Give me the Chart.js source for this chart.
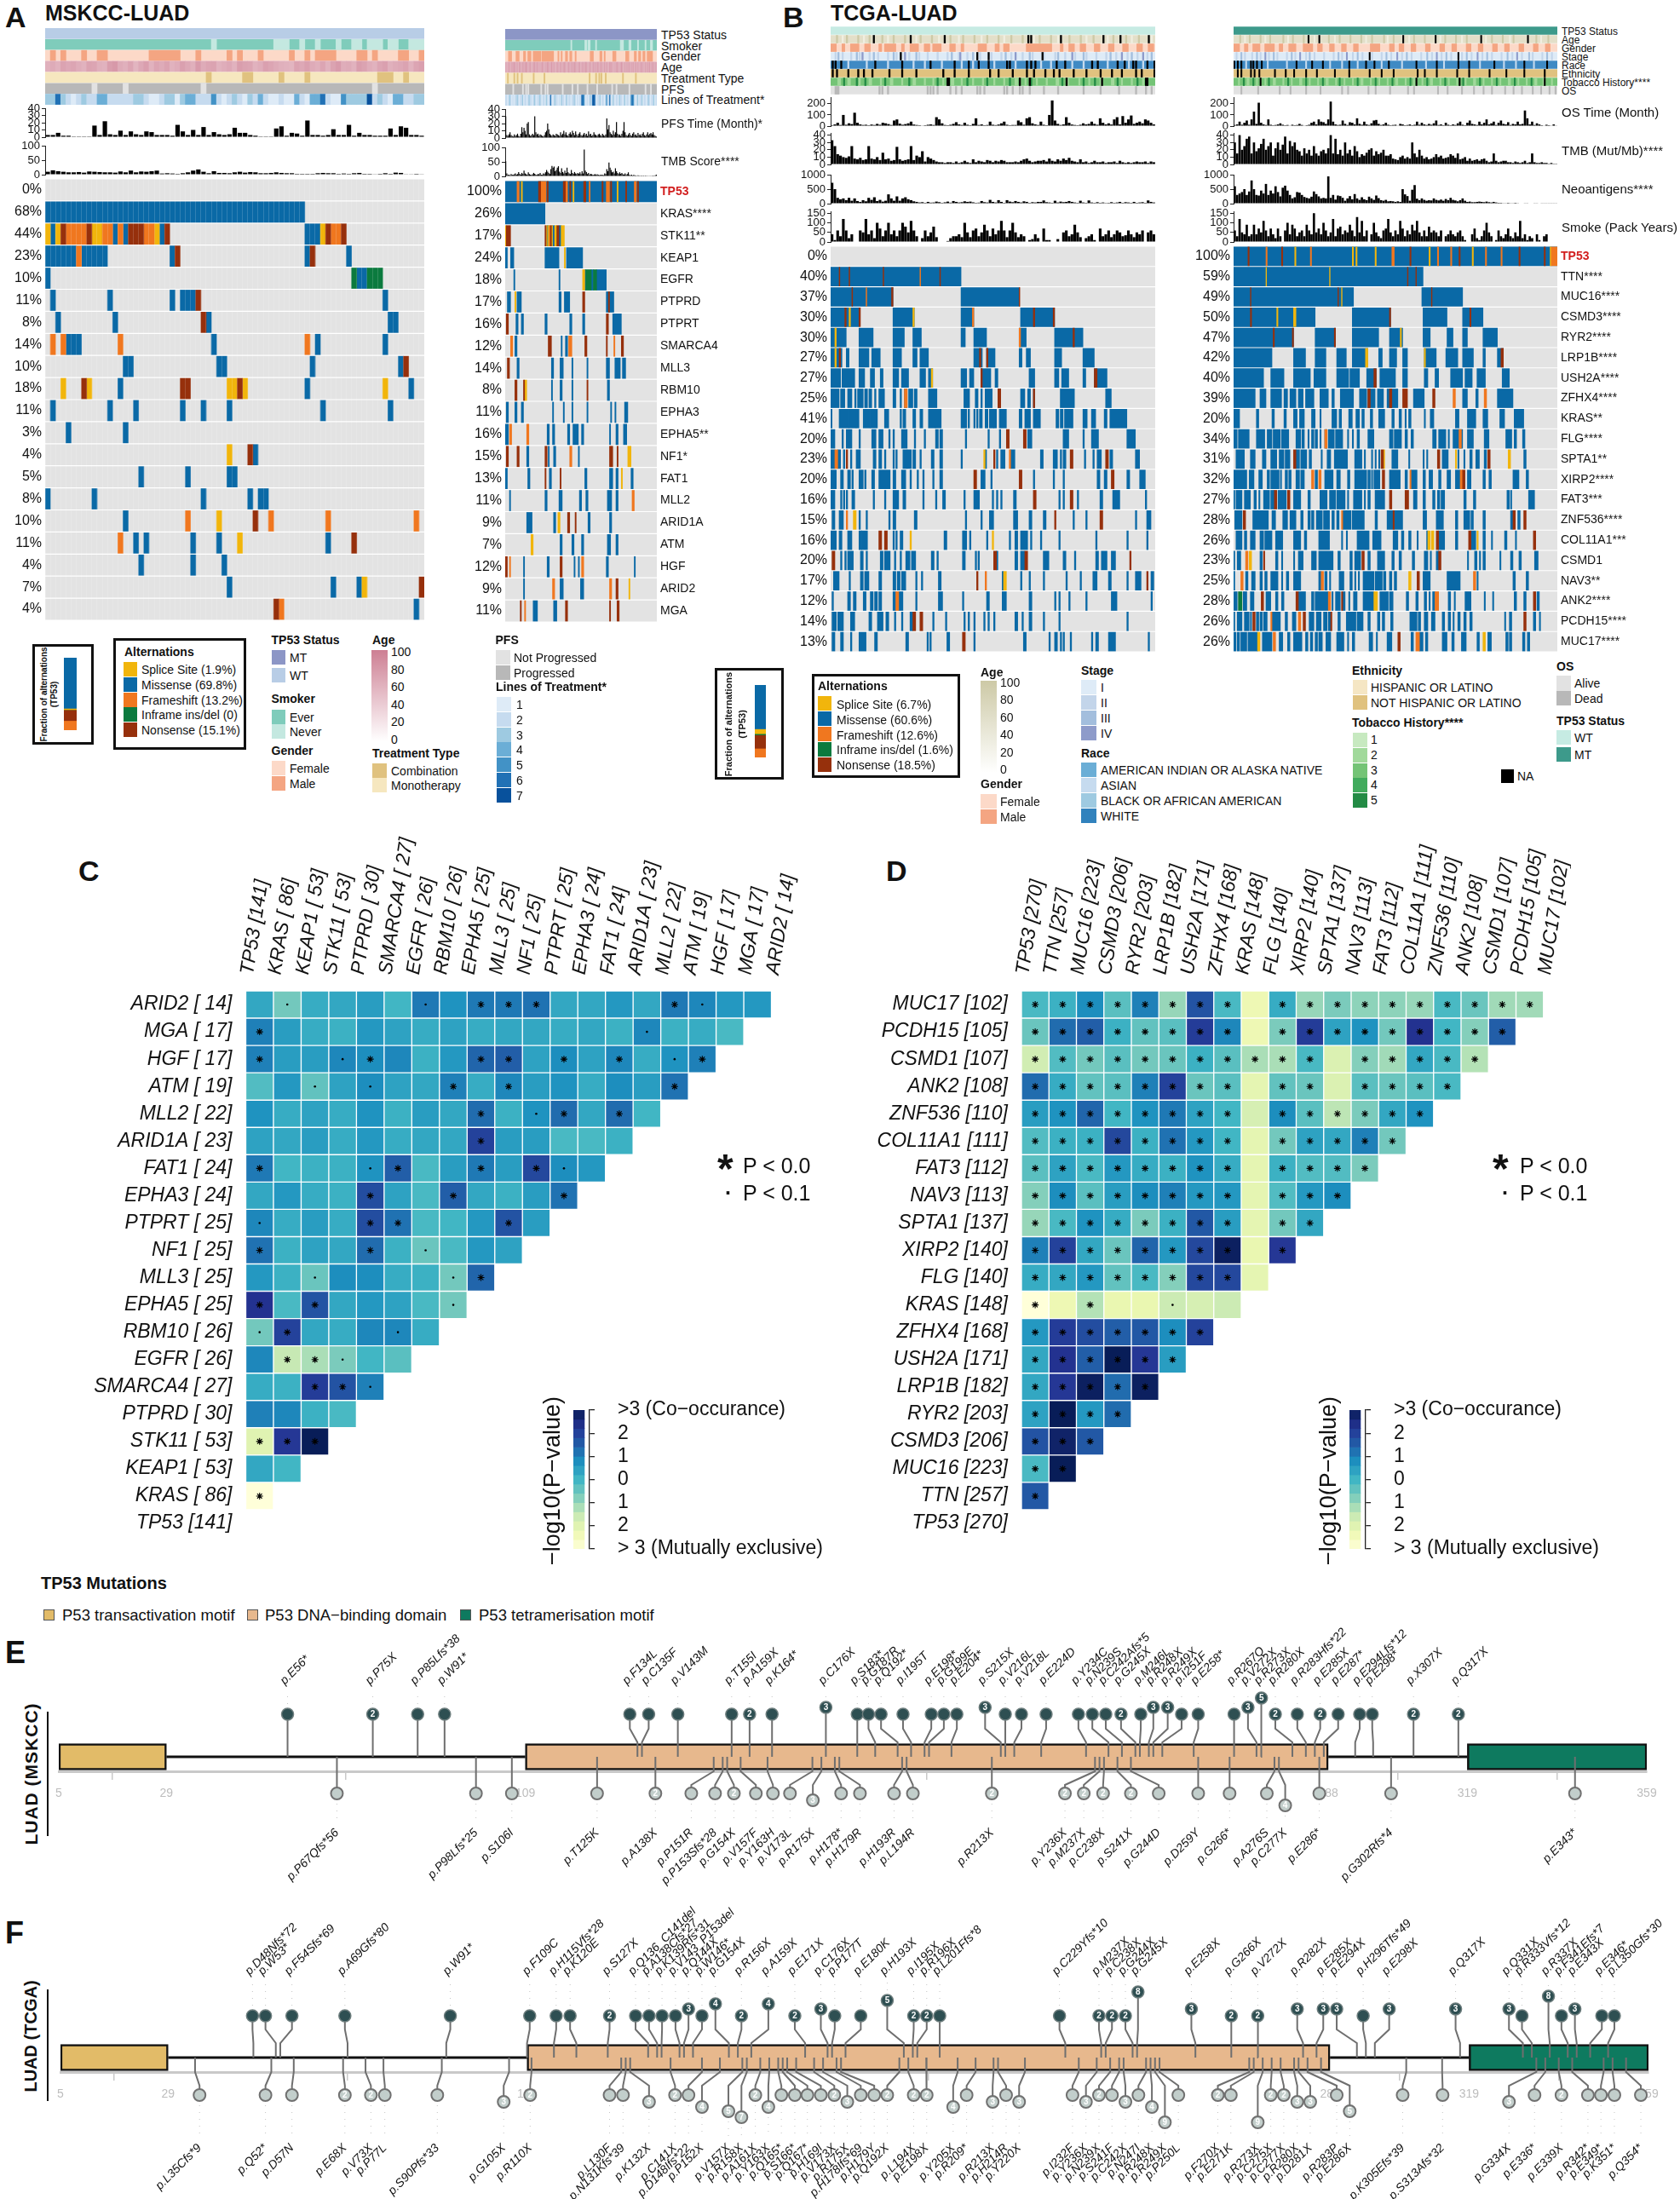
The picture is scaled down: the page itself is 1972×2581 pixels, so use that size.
<!DOCTYPE html>
<html>
<head>
<meta charset="utf-8">
<title>TP53 LUAD oncoprints</title>
<style>
  body { margin: 0; background: #fff; width: 1972px; height: 2581px; position: relative; overflow: hidden; font-family: "Liberation Sans", Arial, sans-serif; color: #111; }
  canvas { position: absolute; }
  .t { position: absolute; white-space: nowrap; line-height: 1; transform: translateY(-50%); }
  .s { position: absolute; }
</style>
<script src="https://cdn.jsdelivr.net/npm/chart.js@4/dist/chart.umd.js"></script>
</head>
<body>
<script>
// ---------- panel A data (MSKCC) ----------
const aGenes = ["TP53","KRAS****","STK11**","KEAP1","EGFR","PTPRD","PTPRT","SMARCA4","MLL3","RBM10","EPHA3","EPHA5**","NF1*","FAT1","MLL2","ARID1A","ATM","HGF","ARID2","MGA"];
const aLeftPct = [0,68,44,23,10,11,8,14,10,18,11,3,4,5,8,10,11,4,7,4];
const aRightPct = [100,26,17,24,18,17,16,12,14,8,11,16,15,13,11,9,7,12,9,11];
const aLeftN = 73, aRightN = 141;

const aLeftMis = [[],[0,50],[1,2,13,14,15,16,22,23,50,53],[0,6,7,12,24,25,50,51,58,59],[0,1,60,62],[1,2,12,13,24,25,26,29,65,66],[2,3,13,14,31,32,66,68],[4,7,32,33,52,53,65,66],[15,17,33,35,51,52,68,69],[14,15,50,51,70,71],[1,2,12,13,17,18,26,27,30,31,35,36,53,54,66,67],[4,5,15,16],[40,41],[18,19,27,28,35,37],[0,1,9,10,30,31,39,40,41,43],[15,16],[17,18,19,20,28,29,33,34,54,55],[18,19,28,29,34,35],[35,36,55,56,60,61],[71,72]];
const aLeftOther = [[2,"S",0,1],[2,"S",2,3],[2,"N",3,4],[2,"F",4,8],[2,"N",8,9],[2,"S",9,11],[2,"F",11,13],[2,"F",14,15],[2,"N",16,19],[2,"F",19,21],[2,"S",21,22],[2,"N",23,24],[2,"S",53,54],[2,"N",54,55],[2,"F",55,57],[2,"N",57,58],[3,"F",6,7],[3,"N",25,26],[3,"N",51,52],[4,"I",59,60],[4,"I",62,65],[5,"N",29,30],[6,"N",30,31],[7,"F",1,2],[7,"F",3,4],[7,"F",14,15],[7,"F",50,51],[8,"N",69,70],[9,"S",3,4],[9,"N",7,8],[9,"S",8,9],[9,"N",26,28],[9,"S",35,37],[9,"N",37,38],[9,"S",38,39],[9,"S",65,66],[12,"S",35,36],[12,"N",39,40],[15,"F",27,28],[15,"S",33,34],[15,"N",40,41],[15,"F",43,44],[15,"F",54,55],[15,"F",71,72],[16,"F",14,15],[16,"S",37,38],[16,"N",59,60],[18,"S",61,62],[18,"N",72,73],[19,"N",44,45],[19,"F",45,46]];

const aRightMis = [[0,141],[0,37],[39,40,44,46,50,52],[0,2,5,8,37,50,57,72],[8,9,50,51,74,75,80,82,85,94],[2,5,11,15,50,52,55,60,94,101],[10,12,15,17,37,39,60,62,72,74,100,108],[9,11,52,53,56,58],[11,13,43,45,51,54,62,63,76,77,94,97,102,107,109,112],[43,44,51,53,62,63,95,97],[1,3,9,11,15,17,44,45,54,55,62,63,76,77,98,99,102,103,111,114],[0,3,39,41,44,46,58,60,63,68,71,73,97,98,103,105,110,113],[20,22,40,41,45,47,68,69],[0,2,21,23,41,43,74,76,97,100,103,105,117,119],[4,5,37,39,50,53,69,71,75,77,95,99,103,105],[20,25,45,47,77,79,97,99],[51,53,62,64,71,73,95,98,103,105],[17,18,39,41,64,65,68,69,94,96,120,121],[17,18,51,54,70,73],[26,30,45,48]];
const aRightOther = [[0,"F",11,13],[0,"S",15,16],[0,"N",31,33],[0,"F",33,38],[0,"N",39,40],[0,"N",54,56],[0,"F",56,58],[0,"N",60,61],[0,"S",63,64],[0,"N",73,75],[0,"F",78,79],[0,"N",90,91],[0,"F",94,97],[0,"N",98,99],[0,"S",104,105],[0,"N",112,113],[0,"F",120,122],[0,"N",123,124],[2,"S",0,1],[2,"N",1,5],[2,"N",37,38],[2,"S",38,39],[2,"S",40,41],[2,"F",41,42],[2,"N",42,43],[2,"S",43,44],[2,"S",46,48],[2,"N",48,50],[2,"S",52,55],[3,"S",55,56],[4,"S",72,74],[4,"I",75,80],[4,"I",82,85],[5,"S",9,10],[5,"N",72,74],[5,"N",96,97],[6,"N",1,3],[6,"N",94,96],[7,"F",5,7],[7,"N",40,43],[7,"F",59,62],[7,"N",74,76],[7,"N",94,95],[7,"F",101,102],[7,"N",108,110],[8,"N",2,4],[9,"N",9,11],[9,"N",17,18],[9,"S",18,20],[9,"N",76,77],[11,"F",4,6],[11,"F",20,22],[12,"N",1,3],[12,"N",11,13],[12,"N",37,39],[12,"F",60,62],[12,"N",97,100],[12,"N",104,105],[12,"S",114,117],[13,"N",37,38],[13,"N",51,52],[13,"S",108,109],[14,"F",118,120],[15,"S",49,51],[15,"N",58,60],[15,"N",65,66],[16,"S",24,26],[17,"N",0,2],[17,"F",4,5],[17,"N",51,53],[17,"F",71,73],[18,"F",44,46],[18,"F",97,99],[18,"N",103,105],[18,"S",115,116],[19,"N",14,15],[19,"F",18,19],[19,"N",56,58],[19,"N",97,98],[19,"N",104,106]];

const aLeftPfsTime = [3,3,6,2,2,1,1,1,1,16,3,22,4,3,9,3,8,4,3,8,7,3,3,3,2,17,8,3,10,3,14,3,7,4,3,4,13,6,6,3,2,1,1,1,12,15,2,6,5,2,23,3,3,2,3,11,3,3,17,2,6,3,3,2,2,2,12,3,15,13,3,3,2];
const aLeftTmb = [10,15,12,10,8,8,9,7,11,10,9,8,8,7,11,8,14,8,11,10,12,14,4,5,4,3,5,8,14,18,10,5,12,6,6,5,8,10,7,9,8,5,5,6,8,6,5,5,3,3,3,3,5,6,5,5,3,4,3,5,6,3,3,2,3,5,3,7,6,2,2,3,2];
const aRightPfsTime = [30,4,3,5,8,4,3,2,5,3,4,6,3,2,6,15,8,14,10,5,20,22,5,3,4,6,4,30,8,5,6,3,5,4,3,2,4,8,10,20,12,6,4,3,5,4,3,6,5,4,3,8,4,6,10,5,8,4,3,6,8,5,10,7,4,9,5,3,6,8,4,3,5,7,4,6,3,9,5,6,3,4,8,5,4,3,5,6,4,3,6,4,3,5,27,12,18,8,6,4,10,5,8,22,6,4,5,3,6,10,22,8,4,3,5,7,4,3,6,8,4,5,3,7,4,5,3,6,8,4,3,5,8,4,6,7,5,8,4,3,2];
const aRightTmb = [52,10,5,6,4,8,6,5,7,10,6,8,15,9,6,12,8,20,10,7,6,14,8,6,5,7,12,9,6,5,8,7,12,6,5,10,8,14,22,16,12,8,25,36,30,34,18,22,30,35,16,12,28,15,10,20,12,30,14,10,8,22,12,9,15,10,8,12,9,14,8,18,10,93,20,15,8,12,6,9,7,5,6,8,5,7,6,4,5,6,5,4,10,8,25,18,48,30,22,14,16,10,28,18,12,8,14,9,12,7,6,10,5,8,14,5,4,6,3,5,4,3,2,4,3,2,3,2,3,2,3,2,2,1,2,2,1,3,2,4,6];

const aLeftNever = [32,33,44,47,49,50,52,53,56,57,59,61,62,65,66,68,70,73];
const aLeftMale = [1,2,3,4,7,8,10,12,20,26,29,30,35,36,37,38,41,42,47,48,50,51,52,56,60,62,63,64,68,70,72,73];
const aLeftAge = [62,66,60,72,68,70,64,60,72,70,62,60,76,80,66,62,70,58,68,75,60,70,66,72,60,64,74,68,62,78,66,70,72,60,64,68,60,76,72,70,60,64,74,70,66,62,60,58,72,68,74,66,62,70,60,72,78,64,66,60,76,72,64,60,70,74,62,66,68,72,60,70,74];
const aLeftCombo = [31,32,38,40,45,46,50,51,64,67,69,70];
const aLeftNotProg = [9,10,15,16,30,31,63,64];
const aLeftLines = [3,3,6,3,2,1,2,3,2,2,4,4,2,2,2,2,2,3,3,2,1,1,2,3,3,1,3,4,4,2,2,2,5,2,1,2,3,2,1,3,2,4,2,1,1,2,1,1,4,2,1,4,4,6,2,1,1,5,3,3,3,3,7,2,3,2,1,4,4,2,2,3,3];

const aRightNever = [61,62,74,76,77,79,84,85,107,110,115,117,123,124,130,131,135,137];
const aRightMale = [3,6,10,13,17,19,21,24,26,33,34,45,49,50,52,53,56,58,60,62,65,66,79,82,88,90,92,93,100,103,112,115,120,122,124,126,128,130,132,137];
const aRightAge = [70,62,58,74,66,60,72,64,78,68,62,70,58,76,66,60,72,68,64,80,70,60,66,74,62,58,70,76,64,68,72,60,66,62,74,70,58,68,64,76,72,60,66,78,62,70,64,58,74,68,60,72,66,62,70,76,64,58,68,74,60,66,72,62,78,70,64,60,68,74,58,66,72,62,70,76,64,60,68,72,58,66,74,62,70,64,78,60,68,72,66,58,74,62,70,64,60,76,68,72,58,66,62,70,74,64,60,68,78,66,58,72,62,70,64,74,60,68,66,72,58,76,62,70,64,60,74,68,66,58,72,62,70,64,76,60,68,72,66,62,70];
const aRightCombo = [2,3,8,9,11,12,15,16,26,27,36,37,78,79,84,85,87,88,89,90,93,94,109,110,121,122];
const aRightNotProg = [7,8,16,17,19,20,21,22,33,34,37,38,39,40,53,54,62,63,67,68,76,77,85,86,99,100,103,104,115,116,130,131,135,136];
const aRightLines = [2,2,1,2,3,2,1,2,1,2,2,3,2,1,2,2,3,1,2,2,1,2,3,2,2,1,2,3,2,1,2,2,3,2,1,2,2,1,3,2,1,2,6,2,1,2,3,2,2,1,2,1,3,2,2,1,2,3,1,2,2,1,2,2,3,2,1,2,1,2,2,6,6,5,2,1,2,1,2,3,2,6,7,6,2,1,2,2,3,1,2,2,1,2,5,2,2,6,2,1,3,2,1,2,2,1,3,2,2,1,2,3,1,2,2,1,2,5,6,5,2,1,2,3,1,2,2,3,1,2,2,1,2,3,2,1,2,2,3,1,2];

// ---------- panel B data (TCGA) ----------
const bGenes = ["TP53","TTN****","MUC16****","CSMD3****","RYR2****","LRP1B****","USH2A****","ZFHX4****","KRAS**","FLG****","SPTA1**","XIRP2****","FAT3***","ZNF536****","COL11A1***","CSMD1","NAV3**","ANK2****","PCDH15****","MUC17****"];
const bLeftPct = [0,40,37,30,30,27,27,25,41,20,23,20,16,15,16,20,17,12,14,13];
const bRightPct = [100,59,49,50,47,42,40,39,20,34,31,32,27,28,26,23,25,28,26,26];
const bLeftN = 229, bRightN = 270;

const bLeftMis = [[],[0,92],[0,44,92,133],[0,20,44,59,92,101,134,158],[0,11,20,30,44,52,58,64,92,95,101,110,133,138,158,178],[0,8,11,13,20,27,29,35,44,50,58,61,63,69,101,107,110,116,133,135,138,141,158,163,178,186],[0,7,8,17,20,24,28,31,35,37,44,48,50,55,63,67,69,72,92,96,98,101,106,113,116,118,140,144,158,161,163,168,178,180,186,195],[0,6,7,10,12,15,17,18,19,23,24,26,27,29,31,32,34,38,44,46,49,50,52,54,55,58,59,61,69,75,94,98,102,104,106,107,109,114,118,120,134,137,139,141,143,144,162,172,194,198],
[0,1,6,13,13,18,18,20,23,28,28,33,38,41,49,50,51,53,58,60,63,65,69,74,74,78,92,96,97,98,101,102,103,104,105,107,109,111,112,115,115,117,119,124,133,135,137,141,143,148,159,161,162,164,165,170,170,171,178,181,184,187,193,195,197,209],
[0,3,8,9,11,15,20,21,29,32,34,37,41,42,44,45,50,54,59,60,66,67,74,76,77,79,95,96,111,112,119,120,139,142,164,168,178,179,184,189,209,215],
[0,3,5,7,9,10,14,15,18,21,30,32,34,36,38,39,44,45,46,47,51,54,54,57,58,60,63,64,71,73,77,79,92,93,109,110,117,118,120,123,127,130,148,150,157,160,162,163,164,166,179,180,185,186,188,191,197,199,215,218],
[0,4,7,9,12,14,15,16,20,23,24,25,29,31,34,42,44,46,50,53,56,57,61,62,65,66,72,73,77,79,106,109,113,114,143,144,157,158,164,165,188,190,193,195,209,211,218,222],
[0,1,1,3,7,8,9,10,11,12,15,17,30,31,38,39,44,48,51,53,65,66,74,75,79,81,94,95,101,105,114,115,117,118,120,121,129,131,161,162,164,165,174,175,190,192,199,204,222,223],
[1,3,6,9,20,21,25,26,41,42,44,46,59,61,95,96,106,107,112,115,129,132,140,142,150,152,171,172,180,181,215,216,223,226],
[0,4,6,8,12,15,20,22,22,26,44,45,46,47,49,51,80,82,93,94,94,96,98,99,110,111,126,127,130,132,134,139,141,142,148,149,161,162,187,188,209,210,223,224],
[7,8,10,11,12,16,21,23,25,26,35,37,38,42,45,46,49,50,53,56,57,60,71,73,75,76,93,95,102,103,104,105,117,118,130,132,134,137,150,154,164,166,172,173,187,189,191,195,198,201],
[2,6,13,14,21,23,24,27,34,36,44,46,47,49,50,53,60,61,64,65,76,78,121,122,134,135,140,141,150,151,166,167,176,177,185,188,196,198,209,210,215,219,226,228],
[1,2,12,14,16,18,23,25,28,30,31,33,34,36,44,46,48,51,60,61,76,79,93,94,110,112,121,124,140,142,158,159,161,162,168,169,180,181,198,202,226,227],
[1,4,5,9,14,17,27,29,33,37,39,41,45,46,50,51,56,58,72,73,81,82,94,95,97,98,101,102,108,109,111,112,115,116,130,132,135,136,140,142,150,151,161,162,209,210],
[1,3,7,9,14,15,20,25,31,33,53,55,68,69,70,71,82,84,101,102,136,138,154,155,158,160,162,163,164,165,169,170,184,185,187,189,196,201,224,225]];
const bLeftOther = [[1,"N",6,6.5],[1,"N",13,13.5],[1,"N",37,37.5],[1,"F",63,63.5],[1,"N",77,77.5],[2,"N",43,44],[2,"N",15,15.5],[2,"F",25,25.5],[2,"N",133,133.5],[3,"N",10,11],[3,"S",13,14],[3,"N",20,21],[3,"S",58,59],[3,"F",100,101],[3,"N",143,144],[3,"N",157,158],[4,"S",3,4],[4,"F",133,134],[4,"N",171,172],[5,"S",3,4],[5,"N",6,7],[5,"N",105,106],[5,"N",110,111],[6,"S",71,72],[6,"N",186,188],[6,"N",106,107],[7,"F",52,54],[7,"N",118,120],[7,"N",143,144],[9,"N",124,126],[9,"N",136,138],[10,"F",3,5],[10,"N",11,12],[10,"S",108,109],[10,"N",115,116],[10,"F",126,127],[10,"N",169,171],[10,"N",194,196],[11,"N",101,103],[11,"N",133,135],[11,"N",198,200],[12,"N",143,145],[12,"N",169,171],[13,"F",11,12],[13,"S",16,18],[13,"N",158,159],[13,"N",190,192],[14,"N",34,36],[14,"N",38,40],[14,"S",56,57],[14,"S",114,115],[15,"N",1,3],[15,"N",115,117],[15,"N",137,139],[15,"N",211,212],[16,"N",103,104],[16,"F",109,110],[16,"S",122,124],[16,"N",223,224],[17,"F",46,48],[18,"N",58,60],[18,"N",63,65],[19,"N",93,95]];

const bRightMis = [[0,270],[0,158],[0,100,157,191],[0,68,99,131,158,178,191,208],[0,50,68,85,99,121,130,141,158,164,178,183,191,195,208,220],[0,32,50,60,68,77,86,94,99,112,121,124,130,136,141,145,159,169,177,187,191,200,208,210,220,225],[0,25,31,42,50,64,67,77,86,96,97,105,111,119,122,135,141,145,159,162,168,171,181,191,193,199,203,210,224,230],[0,18,22,27,31,40,42,45,47,52,54,58,60,67,72,79,82,84,89,100,105,111,112,118,120,125,128,137,150,159,191,195,202,204,220,233],
[0,5,19,21,32,34,42,44,50,53,55,59,65,68,72,73,82,86,88,90,96,99,102,105,107,109,114,116,121,126,132,134,138,140,143,144,146,148,159,160,164,167,185,188,195,202,208,212,222,226,234,242],
[0,3,4,13,19,26,28,32,33,39,40,46,52,56,57,59,62,63,65,67,68,70,72,73,76,78,79,84,85,91,95,96,99,100,103,105,112,117,130,133,134,140,143,145,148,150,166,169,171,177,179,180,183,191,195,200,209,213,227,232,234,236,241,243],
[2,9,14,18,24,27,31,36,38,42,43,47,52,55,56,61,63,65,73,74,78,81,84,95,101,107,109,110,115,116,118,119,121,122,132,137,146,147,158,159,161,162,174,179,187,188,192,193,197,199,202,205,209,211,242,244],
[0,11,13,17,21,24,28,30,31,38,39,40,43,45,46,48,52,55,56,59,68,70,76,83,86,89,95,97,101,111,112,114,115,116,117,122,130,139,143,145,148,153,158,160,163,166,171,173,178,181,185,189,195,198,208,210,213,215,233,238,244,246],
[0,1,2,7,9,14,17,19,21,22,25,30,31,34,37,44,50,56,62,64,72,78,80,85,86,93,95,96,100,107,109,110,112,114,118,126,150,153,158,160,166,168,170,172,173,176,192,194,200,202,228,230,231,232,246,251],
[1,7,16,29,32,35,41,45,47,52,56,58,62,64,65,67,69,74,75,80,82,84,86,88,91,98,99,109,118,120,128,133,134,141,158,161,169,175,185,187,192,197,198,200,208,210,231,233,237,239],
[2,7,9,11,14,18,22,25,26,32,35,41,50,56,59,61,71,80,90,91,94,95,103,113,116,123,133,137,140,142,146,148,153,154,161,162,171,176,185,187,198,202,208,210,215,216,226,228,235,236],
[0,1,3,6,22,24,35,37,40,41,50,51,54,58,65,69,71,83,87,89,97,99,101,106,112,114,120,126,132,134,138,140,149,151,159,162,164,165,169,171,195,196,201,203,205,206,208,210,222,223,231,233,238,240,251,254],
[0,1,10,12,15,18,22,24,26,28,31,37,40,41,44,46,50,56,71,73,76,78,80,81,88,92,97,99,101,102,104,105,108,117,118,124,125,127,130,132,134,136,158,164,178,189,203,204,233,235,244,246],
[0,3,8,11,14,17,27,31,35,37,40,42,54,60,65,67,68,79,82,83,85,89,91,93,96,97,100,103,108,117,122,129,130,133,144,146,152,154,159,161,163,164,166,168,179,181,184,185,193,198,209,210,216,217,234,236,242,244,253,255],
[0,1,3,7,9,13,14,15,19,21,22,24,25,28,32,39,43,45,49,52,63,67,69,73,75,78,79,81,87,89,94,102,103,108,112,114,120,122,124,126,131,133,147,153,154,156,159,162,165,168,174,176,179,181,183,184,187,189,192,194,197,199,226,227,230,232,250,252,255,256],
[0,2,3,5,6,11,12,20,24,32,38,41,45,47,50,57,60,62,64,66,68,70,71,74,77,81,86,92,95,96,99,101,113,116,119,120,128,132,148,150,155,158,160,162,174,178,182,184,190,194,203,205,212,215,227,229,230,232,241,243,245,247]];
const bRightOther = [[0,"N",12,13],[0,"F",27,28],[0,"N",40,41],[0,"S",51,52],[0,"F",64,65],[0,"S",99,100],[0,"S",102,103],[0,"S",118,119],[0,"F",132,134],[0,"N",147,148],[0,"S",163,164],[0,"F",170,171],[0,"F",181,182],[0,"N",188,189],[0,"S",199,200],[0,"F",210,211],[0,"F",223,224],[0,"N",238,239],[0,"N",259,260],[0,"S",264,265],[0,"F",265,270],[1,"S",27,27.5],[1,"S",80,80.5],[1,"N",145,145.5],[1,"N",152,152.5],[2,"N",14,14.5],[2,"N",87,87.5],[2,"S",90,90.5],[2,"N",165,165.5],[3,"N",14,15],[3,"S",36,37],[3,"S",50,52],[3,"N",130,131],[3,"N",197,198],[4,"N",33,34],[4,"N",49,50],[4,"N",84,85],[4,"S",139,140],[5,"S",110,112],[5,"S",159,160],[5,"N",223,225],[6,"N",117,119],[7,"N",112,114],[7,"N",130,132],[7,"N",141,145],[7,"N",166,168],[7,"F",183,185],[7,"F",209,211],[9,"F",76,78],[9,"F",188,190],[10,"N",50,52],[10,"N",123,125],[10,"S",125,126],[10,"N",170,172],[10,"S",185,186],[10,"N",212,214],[10,"S",229,231],[11,"F",65,67],[11,"F",71,73],[11,"N",124,126],[11,"F",147,148],[11,"F",189,191],[11,"N",191,193],[12,"N",34,36],[12,"N",45,47],[12,"N",130,132],[12,"N",143,146],[13,"N",8,10],[13,"F",90,91],[13,"N",133,134],[13,"N",233,235],[13,"N",242,244],[14,"S",162,164],[14,"S",165,167],[14,"N",169,171],[14,"N",196,198],[14,"S",203,204],[14,"N",250,252],[15,"F",10,12],[15,"S",13,15],[15,"N",25,26],[15,"N",107,109],[15,"N",171,173],[16,"F",6,8],[16,"F",73,75],[16,"S",146,148],[16,"N",153,155],[16,"F",200,202],[17,"I",4,7],[17,"N",23,25],[17,"N",52,54],[17,"F",79,81],[17,"N",90,91],[17,"S",117,120],[17,"F",168,171],[17,"N",250,252],[18,"N",16,18],[18,"F",31,32],[18,"F",54,56],[18,"N",58,60],[18,"N",81,82],[18,"N",242,244],[19,"S",20,22],[19,"F",33,35],[19,"N",137,139],[19,"F",152,155],[19,"S",208,210]];

const bLeftOs = [8,15,30,10,100,12,25,18,120,30,15,10,12,8,14,10,20,12,30,25,18,10,50,60,22,12,18,25,40,14,10,8,5,8,12,15,10,80,60,25,10,8,12,20,35,15,10,30,12,8,20,70,10,15,8,10,40,12,9,14,25,40,12,8,10,10,50,35,12,70,80,25,15,10,40,12,8,100,230,50,20,10,15,80,30,14,10,8,12,25,15,20,40,20,12,70,30,15,25,14,60,80,15,90,30,60,95,20,30,40,25,60,50,30,15];
const bLeftTmb = [33,25,14,12,10,9,11,25,8,7,9,6,7,25,8,7,10,6,16,7,8,5,6,24,7,5,6,7,25,6,12,10,18,4,10,8,6,4,3,3,2,3,3,2,4,2,3,5,3,2,7,3,5,4,3,6,5,3,5,4,6,5,3,3,3,4,3,5,7,8,5,3,4,5,5,6,4,8,5,4,7,5,8,6,9,5,4,3,7,3,4,2,3,5,3,3,4,2,3,3,4,2,5,3,2,3,2,3,4,3,3,4,2,4,3];
const bLeftNeo = [720,500,200,150,180,120,200,100,180,90,60,120,80,200,130,220,90,130,70,100,320,180,100,250,100,180,220,150,120,80,60,40,50,30,60,35,40,70,50,30,45,70,35,90,60,40,50,80,60,70,45,30,35,90,50,40,130,60,40,120,60,30,120,70,50,90,60,40,80,60,30,50,40,60,60,110,50,40,30,100,40,70,50,60,90,60,40,30,100,40,30,110,40,30,50,30,40,25,30,50,30,40,60,30,50,40,30,60,30,40,50,30,110,60,40];
const bLeftSmoke = [40,10,60,30,120,60,20,40,0,0,60,50,120,40,60,20,100,70,30,60,100,40,60,30,60,100,80,50,110,60,30,0,20,60,30,50,80,25,0,0,0,5,20,30,30,40,25,100,50,25,60,70,30,50,90,60,30,70,40,60,110,60,25,60,100,50,25,40,30,0,10,15,40,20,0,70,10,10,0,0,15,0,50,60,30,40,90,50,25,0,20,30,40,10,0,70,30,40,60,25,40,60,50,30,35,60,40,25,50,40,60,0,50,60,40];
const bRightOs = [10,15,40,12,30,50,12,60,130,20,210,30,15,10,60,12,8,10,15,25,12,8,10,5,12,8,10,20,10,5,8,12,30,40,15,60,40,35,20,60,220,40,15,10,12,50,20,10,35,30,15,70,20,12,40,15,10,25,50,55,20,10,15,30,12,8,10,12,5,20,15,8,10,15,8,12,40,12,30,15,10,20,12,25,50,10,15,8,30,12,8,15,10,25,40,12,8,30,50,20,15,10,40,15,30,60,15,25,40,10,30,50,20,15,35,10,20,15,40,15,20,140,70,15,40,10,25,15,8,5,12,8,5,15,5];
const bRightTmb = [30,15,40,20,25,35,38,15,30,18,22,28,35,20,25,30,12,22,30,20,27,38,15,32,25,30,20,18,12,22,15,20,12,25,15,12,18,20,15,22,40,15,35,14,20,12,30,15,20,12,25,18,10,14,12,16,20,22,12,18,14,16,20,12,12,14,8,7,6,10,12,8,10,8,30,15,10,20,12,8,10,7,8,10,14,10,12,8,9,10,14,12,9,15,7,8,10,5,8,5,6,7,5,7,8,5,3,4,15,5,3,4,5,5,3,3,2,4,3,2,3,5,2,3,15,3,2,2,3,2,2,1,2,1,1];
const bRightNeo = [600,300,350,400,500,300,420,800,500,300,280,450,350,680,300,450,350,600,400,250,550,620,450,300,180,220,400,380,300,230,200,180,240,420,330,250,180,200,180,940,200,300,140,280,260,200,100,180,260,150,330,180,130,220,150,120,240,180,130,280,190,120,100,130,80,90,80,60,80,60,500,320,260,100,480,640,170,120,180,130,100,120,110,180,130,110,140,100,160,120,200,130,110,80,120,180,100,60,70,50,50,60,70,60,50,70,50,40,60,40,30,30,20,20,30,20,20,30,20,15,15,10,20,15,15,10,10,15,10,10,10,10,10,10,10];
const bRightSmoke = [60,30,120,50,40,90,30,40,90,40,70,50,110,60,30,70,40,20,70,30,0,60,100,40,90,70,30,50,60,30,90,60,40,150,50,70,40,100,60,30,50,120,30,70,80,40,60,50,90,60,30,130,50,110,30,60,0,40,100,50,30,20,60,70,120,50,30,60,40,110,70,30,60,40,90,60,110,50,30,60,30,80,50,60,50,30,60,0,30,40,60,40,30,50,60,30,10,0,0,40,70,20,10,30,60,100,50,30,0,10,60,30,20,40,70,30,20,50,30,110,20,40,10,30,20,0,40,10,0,30,40,0,0,0,0];

// sample indexes of single-sample stripes in the TCGA annotation rows
const bLeftAgeNA = [30,56,80,139,141,162,192,204,224];
const bLeftAgeOld = [4,11,19,27,36,44,52,63,71,84,93,101,110,118,127,135,147,155,168,176,185,199,208,217];
const bLeftAgeYoung = [8,23,40,60,76,90,106,122,143,160,180,195,212,226];
const bLeftMale = [0,4,8,10,14,20,24,28,34,36,38,46,50,52,56,62,66,70,72,78,84,88,92,94,104,110,116,119,122,126,138,156,162,164,168,172,176,180,186,190,196,200,206,210,216,220,224,228];
const bLeftStage2 = [3,8,14,20,27,33,40,46,55,62,68,75,82,90,96,105,113,120,127,135,142,150,158,165,172,180,187,194,201,209,216,223];
const bLeftStage3 = [5,18,30,44,60,85,100,123,140,160,178,197,212,226];
const bLeftStage4 = [22,52,91,130,170,205,220];
const bLeftStageNA = [49,103,111,149];
const bLeftRaceLight = [12,25,40,58,66,78,92,100,115,130,148,155,170,178,195,210,220];
const bLeftRaceNA = [1,3,7,31,50,70,87,97,104,111,124,126,138,141,144,159,165,184,188,202,207,213,215,223,228];
const bLeftEthNA = [1,4,12,19,23,29,41,50,60,79,87,97,112,118,128,138,143,151,157,161,171,180,190,198,205,215,219,228];
const bLeftTobLight = [5,6,12,13,20,27,28,35,42,43,50,58,59,66,72,79,85,86,92,100,107,115,122,130,131,137,145,152,159,160,167,175,182,190,198,199,205,212,220];
const bLeftTobDark = [9,18,24,38,55,75,96,110,126,141,163,178,186,202,216];
const bLeftTobNA = [82,83,133,140,166,191,222,223];
const bLeftDead = [3,4,5,34,36,40,68,70,72,75,84,88,92,103,105,108,122,124,128,133,135,140,150,160,178,190,203,215,222,226];

const bRightAgeNA = [62,71,141,168,206,245];
const bRightAgeOld = [5,13,22,30,41,49,58,79,88,97,106,115,125,133,150,159,176,185,194,215,224,233,252,262];
const bRightAgeYoung = [9,26,45,67,84,110,128,146,172,190,210,230,256];
const bRightMale = [0,5,9,12,16,22,26,34,38,41,46,52,58,66,70,74,80,84,90,94,100,104,114,122,130,134,138,142,148,152,160,164,172,176,182,186,194,198,204,208,216,220,226,230,238,242,250,254,260,264];
const bRightStage2 = [2,9,15,22,29,36,44,51,60,67,75,83,90,99,107,115,123,131,140,148,156,165,173,181,190,198,207,215,223,232,240,249,257,265];
const bRightStage3 = [6,19,33,48,63,87,103,127,144,161,177,194,211,228,246,261];
const bRightStage4 = [26,55,94,136,169,203,236];
const bRightStageNA = [113,187];
const bRightRaceLight = [10,28,44,60,80,90,103,123,140,160,175,205,225,235,250];
const bRightRaceNA = [0,3,6,14,16,19,23,52,65,74,96,110,117,129,152,169,187,196,217,242,261];
const bRightEthNA = [3,6,14,17,21,34,43,50,60,69,84,96,113,123,133,153,159,169,186,196,213,227,242,259];
const bRightTobLight = [4,11,12,19,26,33,34,41,48,55,56,63,70,77,78,85,92,99,106,107,114,121,128,135,136,143,150,157,164,165,172,179,186,193,200,201,208,215,222,229,230,237,244,251,252,258,265];
const bRightTobDark = [8,16,29,45,60,74,88,103,118,132,147,161,176,191,205,219,234,248];
const bRightTobNA = [22,152,188,259];
const bRightDead = [6,20,38,47,60,72,90,95,112,118,130,145,150,170,178,190,200,208,215,226,233,240,249,256,263,268];

// ---------- panel C and D data ----------
const cRowLabels = ["ARID2 [ 14]","MGA [ 17]","HGF [ 17]","ATM [ 19]","MLL2 [ 22]","ARID1A [ 23]","FAT1 [ 24]","EPHA3 [ 24]","PTPRT [ 25]","NF1 [ 25]","MLL3 [ 25]","EPHA5 [ 25]","RBM10 [ 26]","EGFR [ 26]","SMARCA4 [ 27]","PTPRD [ 30]","STK11 [ 53]","KEAP1 [ 53]","KRAS [ 86]","TP53 [141]"];
const cColLabels = ["TP53 [141]","KRAS [ 86]","KEAP1 [ 53]","STK11 [ 53]","PTPRD [ 30]","SMARCA4 [ 27]","EGFR [ 26]","RBM10 [ 26]","EPHA5 [ 25]","MLL3 [ 25]","NF1 [ 25]","PTPRT [ 25]","EPHA3 [ 24]","FAT1 [ 24]","ARID1A [ 23]","MLL2 [ 22]","ATM [ 19]","HGF [ 17]","MGA [ 17]","ARID2 [ 14]"];
const cValues = [
 [.3,-.6,.2,.3,.5,0,1.1,.7,1.1,1.1,1.2,.3,.3,.6,.3,1.1,.9,.6,.6],
 [1,.5,.2,.1,.6,.4,.2,.4,.2,.3,.3,.2,.3,.1,.9,.1,.2,-.1],
 [1,.5,.5,.9,.8,.9,.1,.6,1.4,1.5,.4,.8,.4,.9,.2,.7,1],
 [-.2,.6,-.4,.4,.8,.4,.3,1,.2,.9,.5,.7,.2,.8,.5,1.2],
 [.7,.2,.4,.2,.7,.1,.5,.3,1.3,.1,.7,1.3,.3,1.3,0],
 [.4,.3,.5,.2,.6,.2,.3,.3,2,.5,.5,-.1,-.1,.1],
 [1.1,0,.1,.1,.7,1.5,-.1,.5,1.1,.5,1.9,.8,.6],
 [.3,.6,.2,.1,1.8,.4,-.1,1.5,.3,.1,.5,1.2],
 [.9,.2,.5,.2,1.8,1.2,-.1,0,.6,1.7,.5],
 [1.2,.1,.4,.3,1.3,.1,-.5,-.1,.6,.4],
 [.6,.1,-.5,.8,.8,.2,.1,-.6,1.4],
 [2.3,-.1,1.7,.3,.6,.4,-.1,-.6],
 [-.6,2,.3,.2,.9,.9,.2],
 [.9,-1.5,-1.2,-.7,0,-.3],
 [.2,.1,2.1,1.7,1],
 [1,.9,.1,-.1],
 [-2,2.2,3],
 [.3,0],
 [-3]];
const cSig = [" .    . ***    *.  ","*             .   ","*  .*   ** * * .*","  . .  * *     *","        * .* * ","        *     ","*   .*  * *. ","    *  *   *",".   **   * ","*   * .   ","  .    .*","* *    .",".*   . "," **.  ","  **.","    ","***","  ","*"];

const dRowLabels = ["MUC17 [102]","PCDH15 [105]","CSMD1 [107]","ANK2 [108]","ZNF536 [110]","COL11A1 [111]","FAT3 [112]","NAV3 [113]","SPTA1 [137]","XIRP2 [140]","FLG [140]","KRAS [148]","ZFHX4 [168]","USH2A [171]","LRP1B [182]","RYR2 [203]","CSMD3 [206]","MUC16 [223]","TTN [257]","TP53 [270]"];
const dColLabels = ["TP53 [270]","TTN [257]","MUC16 [223]","CSMD3 [206]","RYR2 [203]","LRP1B [182]","USH2A [171]","ZFHX4 [168]","KRAS [148]","FLG [140]","XIRP2 [140]","SPTA1 [137]","NAV3 [113]","FAT3 [112]","COL11A1 [111]","ZNF536 [110]","ANK2 [108]","CSMD1 [107]","PCDH15 [105]","MUC17 [102]"];
const dValues = [
 [-.1,.1,.8,-.3,1,-1,1.7,-.1,-2.3,.2,-1,-.7,-.9,-.9,-1,-.1,-.5,-1.1,-1.1],
 [-.5,1.3,1.5,.1,-.4,-.3,2.1,.9,-2.3,-.7,2.1,.4,.7,-.6,2.3,0,-.8,1.5],
 [-1.7,-.2,-.6,-.3,-.6,-.5,.1,-.3,-1.2,-1.2,-.1,-1.9,-.8,-1.1,.3,-.1,-1.3],
 [1.3,.2,-.4,-.3,1,2,-.5,-.3,-2.1,-.4,-.5,-1.9,-.3,-.5,-.3,-.1],
 [.5,.7,1.4,0,.7,1.1,.4,0,-1.8,.8,-.3,-1.4,-.7,.3,.7],
 [-.2,.1,.1,1.9,.1,1.2,.6,0,-2.1,-.6,.4,.3,1,-.6],
 [-.3,.4,-.1,.6,.2,.1,.7,.2,-2.1,.1,-.2,-.2,-.7],
 [-.8,.8,-.3,.5,.8,1,.6,.6,-2.1,-.2,.6,.8],
 [-1,-.1,.7,.2,-.7,.1,1.6,.5,-2.1,-.6,.3],
 [1,2,.3,-.5,1.4,.6,1.9,2.9,-2.2,2.2],
 [.2,.3,.6,-.4,-.1,-.8,1.9,1.9,-2.1],
 [-3,-2.3,-1.3,-2.2,-2.2,-1.6,-1.8,-1.6],
 [.6,2.1,1.8,1.5,1.6,.8,2],
 [.3,2.3,1.5,3,2.2,.5],
 [.3,2.2,2.9,1.3,2.9],
 [.4,3,.6,1.3],
 [1.7,2.8,1.6],
 [-.1,3],
 [1.6]];
const dSig = ["******** **********","******** *********","*********** *****","******** ** ****","******** ******","******** *****","******** ****","******** ***","******** **","******** *","******** ","* *  .  ","*******","******","*****","****","***","**","*"];

const colorBarSteps = [-3,-2.6,-2.2,-1.8,-1.4,-1,-.6,-.2,.2,.6,1,1.4,1.8,2.2,2.6,3];
const colorBarLabels = ["> 3 (Mutually exclusive)","2","1","0","1","2",">3 (Co\u2212occurance)"];

// ---------- panels E and F data (residue positions) ----------
const domainEnds = [5,29,109,288,319,359];

const eUpLabels = ["p.E56*","p.P75X","p.P85Lfs*38","p.W91*","p.F134L","p.C135F","p.V143M","p.T155I","p.A159X","p.K164*","p.C176X","p.S183*","p.G187R","p.Q192*","p.I195T","p.E198*","p.G199E","p.E204*","p.S215X","p.V216L","p.V218L","p.E224D","p.Y234C","p.N239S","p.C242Afs*5","p.G245X","p.M246L","p.R248X","p.R249X","p.I251F","p.E258*","p.R267Q","p.V272X","p.R273X","p.R280X","p.R283Hfs*22","p.E285X","p.E287*","p.E294Lfs*12","p.E298*","p.X307X","p.Q317X"];
const eUpPos = [56,75,85,91,134,135,143,155,159,164,176,183,187,192,195,198,199,204,215,216,218,224,234,239,242,245,246,248,249,251,258,267,272,273,280,283,285,287,294,298,307,317];
const eUpHead = [56,75,85,91,132.3,136.5,143,155,159,164,176,183,185.5,188.3,193.2,199.5,202.3,205.2,211.5,216,219.6,225.1,232.3,235.4,238.4,241.8,246.2,249,252.2,255.3,259,267,270.1,273.1,276.2,281.1,286.2,290.2,295,297.8,307,317];
const eUpCount = [1,2,1,1,1,1,1,1,2,1,3,1,1,1,1,1,1,1,3,1,1,1,1,1,1,2,1,3,3,1,1,1,3,5,2,1,2,1,1,1,2,2];
const eDownLabels = ["p.P67Qfs*56","p.P98Lfs*25","p.S106I","p.T125K","p.A138X","p.P151R","p.P153Sfs*28","p.G154X","p.V157F","p.Y163H","p.V173L","p.R175X","p.H178*","p.H179R","p.H193R","p.L194R","p.R213X","p.Y236X","p.M237X","p.C238X","p.S241X","p.G244D","p.D259Y","p.G266*","p.A276S","p.C277X","p.E286*","p.G302Rfs*4","p.E343*"];
const eDownPos = [67,98,106,125,138,151,153,154,157,163,173,175,178,179,193,194,213,236,237,238,241,244,259,266,276,277,286,302,343];
const eDownHead = [67,98,106,125,138,146,151.3,155.5,160.4,164.2,168,173.1,179.4,183.6,191.2,195.4,213,229.3,233.5,237.8,244,250.2,259,266,274.3,278.4,286,302,343];
const eDownCount = [1,1,1,1,2,1,1,2,1,1,1,3,1,1,1,1,2,2,2,2,2,1,1,1,1,4,1,1,1];

const fUpLabels = ["p.D48Nfs*72","p.W53*","p.F54Sfs*69","p.A69Gfs*80","p.W91*","p.F109C","p.H115Vfs*28","p.K120E","p.S127X","p.Q136_C141del","p.A138Cfs*27","p.K139Rfs*31","p.V143_P153del","p.Q144X","p.W146*","p.G154X","p.R156X","p.A159X","p.E171X","p.C176X","p.P177T","p.E180K","p.H193X","p.I195X","p.R196X","p.L201Ffs*8","p.C229Yfs*10","p.M237X","p.C238X","p.G244X","p.G245X","p.E258X","p.G266X","p.V272X","p.R282X","p.E285X","p.E294X","p.H296Tfs*49","p.E298X","p.Q317X","p.Q331X","p.R333Vfs*12","p.R337X","p.F341Efs*7","p.E343X","p.E346*","p.L350Gfs*30"];
const fUpPos = [48,53,54,69,91,109,115,120,127,136,138,139,143,144,146,154,156,159,171,176,177,180,193,195,196,201,229,237,238,244,245,258,266,272,282,285,294,296,298,317,331,333,337,341,343,346,350];
const fUpHead = [47.8,50.7,56.6,68.4,91.9,109.6,115.5,118.6,127.4,133.2,136.2,139.1,142.1,145,148,151,156.8,162.8,168.7,174.5,177.6,183.4,189.3,195.2,198.1,201,227.7,236.5,239.4,242.4,245.2,257.1,266,271.9,280.7,286.5,289.5,295.4,301.2,316,327.9,330.8,336.7,339.6,342.6,348.6,351.4];
const fUpCount = [1,1,1,1,1,1,1,1,2,1,1,1,1,3,1,4,2,4,2,3,1,1,5,2,2,1,1,2,2,2,8,3,2,2,3,3,3,1,3,3,3,1,8,1,3,1,1];
const fUpLift = [49,49,49,49,49,49,49,49,49,49,49,49,49,57,49,63,49,63,49,57,49,49,67,49,49,49,49,49,49,49,77,57,49,49,57,57,57,49,57,57,57,49,72,49,57,49,49];
const fDownLabels = ["p.L35Cfs*9","p.Q52*","p.D57N","p.E68X","p.V73X","p.P77L","p.S90Pfs*33","p.G105X","p.R110X","p.L130F","p.N131Kfs*39","p.K132X","p.C141X","p.D148Ifs*22","p.P152X","p.V157X","p.R158X","p.A161X","p.Y163X","p.Q165*","p.S166*","p.Q167*","p.H169I","p.V173X","p.R175X","p.H178Ifs*69","p.H179Y","p.Q192X","p.L194X","p.E198X","p.Y205X","p.R209*","p.R213X","p.H214R","p.Y220X","p.I232F","p.Y236X","p.N239X","p.S241F","p.C242X","p.N247I","p.R248X","p.R249X","p.P250L","p.F270X","p.E271K","p.R273X","p.C275X","p.C277X","p.R280X","p.D281X","p.R283P","p.E286X","p.K305Efs*39","p.S313Afs*32","p.G334X","p.E336*","p.E339X","p.R342*","p.E349*","p.K351*","p.Q354*"];
const fDownPos = [35,52,57,68,73,77,90,105,110,130,131,132,141,148,152,157,158,161,163,165,166,167,169,173,175,178,179,192,194,198,205,209,213,214,220,232,236,239,241,242,247,248,249,250,270,271,273,275,277,280,281,283,286,305,313,334,336,339,342,349,351,354];
const fDownHead = [36,50.7,56.6,68.4,74.2,77.3,89,103.8,109.7,127.4,130.4,136.2,142,145,148,153.9,156.8,159.9,162.8,165.7,168.7,171.5,174.5,177.5,180.4,183.4,186.4,189.3,195.2,198.1,204,207,212.8,215.8,218.7,230.6,233.6,236.5,239.4,242.4,245.3,248.3,251.2,254.2,263,265.9,271.9,274.8,277.7,280.7,283.6,289.5,292.4,304.2,313.1,327.9,333.6,339.6,345.5,348.4,351.4,357.3];
const fDownCount = [1,1,1,2,2,1,1,3,2,1,1,3,2,1,4,5,7,2,4,1,1,1,1,2,3,1,1,2,2,2,4,1,3,1,3,1,3,2,1,3,1,4,9,1,2,1,9,2,2,3,3,1,5,1,1,3,1,2,1,1,1,1];
const fDownLift = [44,44,44,44,44,44,44,52,44,44,44,52,44,44,58,63,70,44,58,44,44,44,44,44,52,44,44,44,44,44,58,44,52,44,52,44,52,44,44,52,44,58,76,44,44,44,76,44,44,52,52,44,63,44,44,52,44,44,44,44,44,44];

// ---------- palette ----------
const mutColor = { M: "#0a69a6", S: "#f1b50c", F: "#f0771f", I: "#0b7a3e", N: "#96300c" };
const cellGray = "#e3e3e3";
const linePalette = ["#deebf7","#c6dbef","#9ecae1","#6baed6","#4292c6","#2171b5","#08519c"];
const ylgnbu = ["#ffffd9","#edf8b1","#c7e9b4","#7fcdbb","#41b6c4","#1d91c0","#225ea8","#253494","#081d58"];

function hexRgb(h) { return [1,3,5].map(i => parseInt(h.substr(i,2),16)); }
function mix(a, b, t) {
  const p = hexRgb(a), q = hexRgb(b);
  return "rgb(" + p.map((v,i) => Math.round(v + (q[i]-v)*t)).join(",") + ")";
}
function heatColor(v) {
  const pos = Math.min(Math.max((v+3)/6,0),1) * (ylgnbu.length-1);
  const i = Math.min(Math.floor(pos), ylgnbu.length-2);
  return mix(ylgnbu[i], ylgnbu[i+1], pos-i);
}
const ageColor = a => mix("#ffffff","#cd7f93",a/100);
const pairs = flat => { const out = []; for (let i = 0; i < flat.length; i += 2) out.push([flat[i],flat[i+1]]); return out; };
const singles = list => list.flatMap(i => [i,i+1]);

// ---------- helpers ----------
Chart.defaults.font.family = '"Liberation Sans", Arial, sans-serif';
Chart.defaults.color = "#111";

function baseOpts(extra) {
  return Object.assign({
    responsive: false, animation: false, devicePixelRatio: 1, events: [],
    layout: { padding: 0, autoPadding: false },
    plugins: { legend: { display: false }, tooltip: { enabled: false } }
  }, extra);
}
function addCanvas(x, y, w, h) {
  const c = document.createElement("canvas");
  c.width = w; c.height = h;
  c.style.left = x + "px"; c.style.top = y + "px";
  document.body.appendChild(c);
  return c;
}
function T(x, y, text, size, o) {
  o = o || {};
  const d = document.createElement("div");
  d.className = "t";
  d.textContent = text;
  d.style.left = x + "px"; d.style.top = y + "px"; d.style.fontSize = size + "px";
  if (o.bold) d.style.fontWeight = "bold";
  if (o.italic) d.style.fontStyle = "italic";
  if (o.color) d.style.color = o.color;
  if (o.rotate) d.style.transform = "translate(-50%,-50%) rotate(" + o.rotate + "deg)";
  if (o.spacing) d.style.letterSpacing = o.spacing + "px";
  document.body.appendChild(d);
}
function box(x, y, w, h, color, border) {
  const d = document.createElement("div");
  d.className = "s";
  d.style.cssText = "left:"+x+"px;top:"+y+"px;width:"+w+"px;height:"+h+"px;" + (color ? "background:"+color+";" : "") + (border ? "border:"+border+";box-sizing:border-box;" : "");
  document.body.appendChild(d);
  return d;
}
function hidden(min, max, reverse) {
  return { type: "linear", display: false, min, max, bounds: "data", offset: false, reverse: !!reverse };
}
function floatSet(items, thick, color) {
  return { indexAxis: "y", grouped: false, barThickness: thick, backgroundColor: color, xAxisID: "x", yAxisID: "y", data: items };
}

function trackChart(r, n, tracks, thick) {
  const cv = addCanvas(r.x, r.y, r.w, r.h);
  const sets = [];
  tracks.forEach((t, row) => {
    sets.push(floatSet([{ y: row, x: [0,n] }], thick, t.base));
    if (t.cells) sets.push(floatSet(t.cells.map((c,i) => ({ y: row, x: [i,i+1] })), thick, t.cells));
    (t.layers || []).forEach(l => sets.push(floatSet(pairs(l[1]).map(p => ({ y: row, x: p })), thick, l[0])));
  });
  new Chart(cv, { type: "bar", data: { datasets: sets.reverse() }, options: baseOpts({
    indexAxis: "y",
    scales: { x: hidden(0,n), y: hidden(-.5, tracks.length-.5, true) }
  }) });
}

function barChart(r, values, ticks, max) {
  const gut = 44, pad = 9;
  const cv = addCanvas(r.x-gut, r.top-pad, r.w+gut, r.base-r.top+pad*2);
  new Chart(cv, { type: "bar", data: { labels: values.map((_,i) => i), datasets: [{ data: values, backgroundColor: "#000", barPercentage: 1, categoryPercentage: r.fill || .95 }] },
    options: baseOpts({
      layout: { padding: { top: pad, bottom: pad }, autoPadding: false },
      scales: {
      x: { display: false },
      y: { type: "linear", min: 0, max, bounds: "data", position: "left",
        afterBuildTicks: s => { s.ticks = ticks.map(v => ({ value: v })); },
        afterFit: s => { s.width = gut; s.paddingTop = 0; s.paddingBottom = 0; },
        grid: { drawOnChartArea: false, tickLength: 4, color: "#222" }, border: { color: "#222" },
        ticks: { font: { size: 13 }, padding: 2, autoSkip: false, color: "#111", callback: v => String(v) } }
    } }) });
}

function oncoChart(r, n, pct, genes, missense, other, thick, cellLines) {
  const gut = 60, right = genes ? 120 : 0;
  const cv = addCanvas(r.x-gut, r.y, r.w+gut+right, r.h);
  const sets = [ floatSet(pct.map((_,i) => ({ y: i, x: [0,n] })), thick, cellGray) ];
  const mis = [];
  missense.forEach((flat, row) => pairs(flat).forEach(p => mis.push({ y: row, x: p })));
  sets.push(floatSet(mis, thick, mutColor.M));
  "SFIN".split("").forEach(type => {
    sets.push(floatSet(other.filter(o => o[1] === type).map(o => ({ y: o[0], x: [o[2],o[3]] })), thick, mutColor[type]));
  });
  const rowTicks = s => { s.ticks = pct.map((_,i) => ({ value: i })); };
  const scales = {
    x: { type: "linear", min: 0, max: n, bounds: "data", offset: false,
      afterFit: s => { s.height = 0; s.paddingLeft = 0; s.paddingRight = 0; },
      display: !!cellLines,
      grid: { z: 1, color: "rgba(255,255,255,.2)", drawTicks: false, lineWidth: .8 },
      border: { display: false },
      ticks: { display: false, stepSize: 1, autoSkip: false, maxTicksLimit: n+2 } },
    y: { type: "linear", min: -.5, max: pct.length-.5, reverse: true, bounds: "data", offset: false, position: "left",
      afterBuildTicks: rowTicks,
      afterFit: s => { s.width = gut; s.paddingTop = 0; s.paddingBottom = 0; },
      grid: { display: false, drawTicks: false }, border: { display: false },
      ticks: { font: { size: 16 }, padding: 4, autoSkip: false, color: "#111", callback: v => pct[v] + "%" } }
  };
  if (genes) {
    scales.yGene = { axis: "y", type: "linear", min: -.5, max: pct.length-.5, reverse: true, bounds: "data", offset: false, position: "right",
      afterBuildTicks: rowTicks,
      afterFit: s => { s.width = right; s.paddingTop = 0; s.paddingBottom = 0; },
      grid: { display: false, drawTicks: false }, border: { display: false },
      ticks: { padding: 4, autoSkip: false,
        font: c => c.index === 0 ? { size: 14, weight: "bold" } : { size: 14 },
        color: c => c.index === 0 ? "#d21f1f" : "#111",
        callback: v => genes[v] } };
  }
  new Chart(cv, { type: "bar", data: { datasets: sets.reverse() }, options: baseOpts({ indexAxis: "y", scales }) });
}

function fractionChart(r, parts, colors) {
  const cv = addCanvas(r.x, r.y, r.w, r.h);
  new Chart(cv, { type: "bar", data: { labels: ["TP53"], datasets: parts.map((v,i) => ({ data: [v], backgroundColor: colors[i], barPercentage: 1, categoryPercentage: 1 })) },
    options: baseOpts({ scales: {
      x: { display: false, stacked: true },
      y: { type: "linear", display: false, stacked: true, reverse: true, min: 0, max: 100, bounds: "data" }
    } }) });
}

function heatChart(r, rows, cols, values, sig) {
  const gutTop = 190;
  const cv = addCanvas(r.canvasX, r.y-gutTop, r.x-r.canvasX + 20*r.col + 4, gutTop + 20*r.row + 2);
  const cells = [], colors = [], stars = [], dots = [];
  values.forEach((row, i) => row.forEach((v, j) => {
    cells.push({ y: i, x: [j,j+1] });
    colors.push(heatColor(v));
    const mark = sig[i][j];
    if (mark === "*") stars.push({ x: j+.5, y: i });
    if (mark === ".") dots.push({ x: j+.5, y: i });
  }));
  const sets = [
    { type: "scatter", indexAxis: "x", data: stars, xAxisID: "x", yAxisID: "y", pointStyle: "star", pointRadius: 4, borderColor: "#000", backgroundColor: "#000", borderWidth: 1.1, order: 1 },
    { type: "scatter", indexAxis: "x", data: dots, xAxisID: "x", yAxisID: "y", pointStyle: "circle", pointRadius: 1.3, backgroundColor: "#000", borderWidth: 0, order: 1 },
    { type: "bar", indexAxis: "y", grouped: false, barThickness: r.row, data: cells, backgroundColor: colors, borderColor: "#fff", borderWidth: 1, borderSkipped: false, xAxisID: "x", yAxisID: "y", order: 2 }
  ];
  new Chart(cv, { type: "bar", data: { datasets: sets }, options: baseOpts({
    layout: { padding: { right: 0, bottom: 0 }, autoPadding: false },
    scales: {
      x: { type: "linear", position: "top", min: 0, max: 20, bounds: "data", offset: false,
        // rotated top labels sit a half line to the left of their tick, so the ticks are nudged right
        afterBuildTicks: s => { s.ticks = cols.map((_,i) => ({ value: i+.9 })); },
        afterFit: s => { s.height = gutTop; s.paddingLeft = 0; s.paddingRight = 0; },
        grid: { display: false, drawTicks: false }, border: { display: false },
        ticks: { minRotation: 81, maxRotation: 81, padding: 17, autoSkip: false, color: "#111", font: { size: 23, style: "italic" }, callback: (v,i) => cols[i] } },
      y: { type: "linear", position: "left", min: -.5, max: 19.5, reverse: true, bounds: "data", offset: false,
        afterBuildTicks: s => { s.ticks = rows.map((_,i) => ({ value: i })); },
        afterFit: s => { s.width = r.x-r.canvasX; s.paddingTop = 0; s.paddingBottom = 0; },
        grid: { display: false, drawTicks: false }, border: { display: false },
        ticks: { padding: 16, autoSkip: false, color: "#111", font: { size: 23, style: "italic" }, callback: v => rows[v] } }
    } }) });
}

function colorBar(x, y, h) {
  const pad = 12, w = 330;
  const cv = addCanvas(x, y-pad, w, h+pad*2);
  const segs = [];
  for (let i = 0; i < colorBarSteps.length-1; i++) segs.push({ x: .34, y: [colorBarSteps[i],colorBarSteps[i+1]] });
  new Chart(cv, { type: "bar", data: { datasets: [{ grouped: false, barThickness: 13, data: segs, backgroundColor: segs.map(s => heatColor((s.y[0]+s.y[1])/2)), xAxisID: "x", yAxisID: "y" }] },
    options: baseOpts({
      layout: { padding: { top: pad, bottom: pad }, autoPadding: false },
      scales: {
        x: hidden(0,1),
        y: { type: "linear", position: "right", min: -3, max: 3, bounds: "data", offset: false,
          afterBuildTicks: s => { s.ticks = colorBarLabels.map((_,i) => ({ value: i-3 })); },
          afterFit: s => { s.width = w-19; s.paddingTop = 0; s.paddingBottom = 0; },
          grid: { drawOnChartArea: false, tickLength: 6, color: "#222", lineWidth: 1.3 }, border: { color: "#222", width: 1.3 },
          ticks: { padding: 27, autoSkip: false, color: "#111", font: { size: 23 }, callback: (v,i) => colorBarLabels[i] } }
      } }) });
}

function stemPath(pos, head, lift, dir) {
  return [{ x: pos, y: 0 }, { x: pos, y: dir*17 }, { x: head, y: dir*33 }, { x: head, y: dir*lift }, { x: NaN, y: NaN }];
}

function lollipop(r, up, down) {
  const cv = addCanvas(0, r.canvasTop, 1972, r.canvasBottom-r.canvasTop);
  const stems = [], faint = [];
  up.head.forEach((h,i) => { stems.push(...stemPath(up.pos[i],h,up.lift[i],1)); faint.push({ x: h, y: up.lift[i]+12 }, { x: h, y: r.span-2 }, { x: NaN, y: NaN }); });
  down.head.forEach((h,i) => { stems.push(...stemPath(down.pos[i],h,down.lift[i],-1)); faint.push({ x: h, y: -down.lift[i]-12 }, { x: h, y: -r.spanDown+4 }, { x: NaN, y: NaN }); });
  const line = (data, color, width, order, dash) => ({ type: "scatter", indexAxis: "x", showLine: true, data, borderColor: color, borderWidth: width, borderDash: dash || [], pointRadius: 0, xAxisID: "x", yAxisID: "y", order });
  const sets = [
    { type: "scatter", indexAxis: "x", data: up.head.map((h,i) => ({ x: h, y: up.lift[i] })), xAxisID: "x", yAxisID: "y", pointRadius: 7, backgroundColor: "#2e4f52", borderColor: "#6d7d7d", borderWidth: 1.5, order: 1 },
    { type: "scatter", indexAxis: "x", data: down.head.map((h,i) => ({ x: h, y: -down.lift[i] })), xAxisID: "x", yAxisID: "y", pointRadius: 7, backgroundColor: "#c2cecb", borderColor: "#707070", borderWidth: 2, order: 1 },
    line(stems, "#6f6f6f", 2, 2),
    line(faint, "#c4c4c4", 1, 2, [1,7]),
    { type: "bar", indexAxis: "y", grouped: false, barThickness: 31, borderColor: "#111", borderWidth: 2.5, borderSkipped: false, xAxisID: "x", yAxisID: "y", order: 3,
      backgroundColor: ["#e2bb68","#e7b88d","#0e7a5f"],
      data: [{ y: 0, x: [domainEnds[0],domainEnds[1]] }, { y: 0, x: [domainEnds[2],domainEnds[3]] }, { y: 0, x: [domainEnds[4],domainEnds[5]] }] },
    line([{ x: domainEnds[1], y: 0 }, { x: domainEnds[2], y: 0 }, { x: NaN, y: NaN }, { x: domainEnds[3], y: 0 }, { x: domainEnds[4], y: 0 }], "#111", 3, 4)
  ];
  const labelAxis = (position, labels, heads, gutter, shift) => ({
    axis: "x", type: "linear", position, min: domainEnds[0], max: domainEnds[5], bounds: "data", offset: false,
    afterBuildTicks: s => { s.ticks = heads.map(v => ({ value: v+shift })); },
    afterFit: s => { s.height = gutter; s.paddingLeft = 0; s.paddingRight = 0; },
    grid: { display: false, drawTicks: false }, border: { display: false },
    ticks: { minRotation: 45, maxRotation: 45, padding: 1, autoSkip: false, color: "#111", font: { size: 14, style: "italic" }, callback: (v,i) => labels[i] }
  });
  const countLabels = {
    id: "countLabels",
    afterDatasetsDraw(chart) {
      const c = chart.ctx, sx = chart.scales.x, sy = chart.scales.y;
      c.save();
      c.font = "bold 10px 'Liberation Sans'"; c.fillStyle = "#fff"; c.textAlign = "center"; c.textBaseline = "middle";
      [[up,1],[down,-1]].forEach(([g,dir]) => g.head.forEach((h,i) => {
        if (g.count[i] > 1) c.fillText(String(g.count[i]), sx.getPixelForValue(h), sy.getPixelForValue(dir*g.lift[i]));
      }));
      c.restore();
    }
  };
  new Chart(cv, { type: "bar", data: { datasets: sets }, plugins: [countLabels], options: baseOpts({
    layout: { padding: { left: r.left, right: 1972-r.right }, autoPadding: false },
    scales: {
      x: { type: "linear", min: domainEnds[0], max: domainEnds[5], bounds: "data", offset: false, position: { y: -17 },
        afterBuildTicks: s => { s.ticks = domainEnds.map(v => ({ value: v })); },
        grid: { drawOnChartArea: false, tickLength: 8, color: "#c9c9c9", lineWidth: 1.5 }, border: { color: "#c9c9c9", width: 3 },
        ticks: { autoSkip: false, padding: 10, color: "#bdbdbd", font: { size: 14 }, maxRotation: 0, callback: (v,i) => String(domainEnds[i]) } },
      xTop: labelAxis("top", up.labels, up.head, r.top-r.canvasTop, 1.1),
      xBottom: labelAxis("bottom", down.labels, down.head, r.canvasBottom-r.bottom, 0),
      y: { type: "linear", display: false, min: -r.spanDown, max: r.span, bounds: "data", offset: false }
    } }) });
}

function legendColumn(x, items, swW, textGap, size) {
  items.forEach(it => {
    box(x, it[0], swW, it[1], it[2]);
    T(x+swW+textGap, it[0]+it[1]/2, it[3], size);
  });
}

// ---------- panel A ----------
T(6, 20, "A", 34, { bold: true });
T(53, 15, "MSKCC-LUAD", 25, { bold: true });
const aLeftBox = { x: 53, y: 32.5, w: 445, h: 90 };
const aRightBox = { x: 593, y: 34, w: 178, h: 90 };
trackChart(aLeftBox, aLeftN, [
  { base: "#b8cde6" },
  { base: "#7fccbb", layers: [["#c4e8e0", aLeftNever]] },
  { base: "#fcd9c8", layers: [["#f4a582", aLeftMale]] },
  { base: "#e4a9b6", cells: aLeftAge.map(ageColor) },
  { base: "#f6e7bf", layers: [["#e0c27f", aLeftCombo]] },
  { base: "#b8b8b8", layers: [["#e2e2e2", aLeftNotProg]] },
  { base: "#c6dbef", cells: aLeftLines.map(v => linePalette[v-1]) }
], 12);
trackChart(aRightBox, aRightN, [
  { base: "#8c96c6" },
  { base: "#7fccbb", layers: [["#c4e8e0", aRightNever]] },
  { base: "#fcd9c8", layers: [["#f4a582", aRightMale]] },
  { base: "#e4a9b6", cells: aRightAge.map(ageColor) },
  { base: "#f6e7bf", layers: [["#e0c27f", aRightCombo]] },
  { base: "#b8b8b8", layers: [["#e2e2e2", aRightNotProg]] },
  { base: "#c6dbef", cells: aRightLines.map(v => linePalette[v-1]) }
], 12);
["TP53 Status","Smoker","Gender","Age","Treatment Type","PFS","Lines of Treatment*"].forEach((s,i) => T(776, 41+i*12.7, s, 14));
barChart({ x: 53, w: 445, top: 127, base: 161, fill: .85 }, aLeftPfsTime, [0,10,20,30,40], 40);
barChart({ x: 53, w: 445, top: 171, base: 205, fill: .85 }, aLeftTmb, [0,50,100], 100);
barChart({ x: 593, w: 178, top: 128, base: 162 }, aRightPfsTime, [0,10,20,30,40], 40);
barChart({ x: 593, w: 178, top: 173, base: 207 }, aRightTmb, [0,50,100], 100);
T(776, 145, "PFS Time (Month)*", 14);
T(776, 189, "TMB Score****", 14);
oncoChart({ x: 53, y: 210, w: 445, h: 518 }, aLeftN, aLeftPct, null, aLeftMis, aLeftOther, 24, true);
oncoChart({ x: 593, y: 211.5, w: 178, h: 518 }, aRightN, aRightPct, aGenes, aRightMis, aRightOther, 24);

// panel A legends
box(38, 756, 72, 118, null, "3px solid #111");
T(52, 815, "Fraction of alternations", 10, { bold: true, rotate: -90 });
T(64, 815, "(TP53)", 10, { bold: true, rotate: -90 });
fractionChart({ x: 75, y: 772, w: 15, h: 85 }, [69.8,1.9,0,15.1,13.2], [mutColor.M,mutColor.S,mutColor.I,mutColor.N,mutColor.F]);
box(133, 749, 156, 131, null, "3px solid #111");
T(146, 765, "Alternations", 14, { bold: true });
const aAltNames = ["Splice Site (1.9%)","Missense (69.8%)","Frameshift (13.2%)","Inframe ins/del (0)","Nonsense (15.1%)"];
const altKeys = ["S","M","F","I","N"];
aAltNames.forEach((s,i) => { box(145, 777+i*17.8, 16, 17, mutColor[altKeys[i]]); T(166, 786+i*17.8, s, 14); });
T(318.5, 751, "TP53 Status", 14, { bold: true });
legendColumn(319, [[763,17,"#8c96c6","MT"],[784,17,"#b8cde6","WT"]], 16, 5, 14);
T(318.5, 820, "Smoker", 14, { bold: true });
legendColumn(319, [[833,17,"#7fccbb","Ever"],[850,17,"#c4e8e0","Never"]], 16, 5, 14);
T(318.5, 881, "Gender", 14, { bold: true });
legendColumn(319, [[893,17,"#fcd9c8","Female"],[911,17,"#f4a582","Male"]], 16, 5, 14);
T(437, 751, "Age", 14, { bold: true });
box(436, 763, 19, 107, "linear-gradient(#cd7f93,#fff)");
[100,80,60,40,20,0].forEach((v,i) => T(459, 765+i*20.6, String(v), 14));
T(437, 884, "Treatment Type", 14, { bold: true });
legendColumn(437, [[896,17,"#e0c27f","Combination"],[913,17,"#f6e7bf","Monotherapy"]], 17, 5, 14);
T(581.5, 751, "PFS", 14, { bold: true });
legendColumn(582, [[763,17,"#e2e2e2","Not Progressed"],[781,17,"#b8b8b8","Progressed"]], 17, 4, 14);
T(582, 806, "Lines of Treatment*", 14, { bold: true });
linePalette.forEach((c,i) => { box(583, 818+i*17.8, 17, 17, c); T(606, 827+i*17.8, String(i+1), 14); });

// ---------- panel B ----------
T(919, 20, "B", 34, { bold: true });
T(975, 15, "TCGA-LUAD", 25, { bold: true });
const bLeftTrackBox = { x: 975, y: 31, w: 381, h: 80 };
const bRightTrackBox = { x: 1448, y: 31, w: 380, h: 80 };
trackChart(bLeftTrackBox, bLeftN, [
  { base: "#c6ebe3" },
  { base: "#e3dfc9", layers: [["#cdc9a6", singles(bLeftAgeOld)], ["#f0eee0", singles(bLeftAgeYoung)], ["#000", singles(bLeftAgeNA)]] },
  { base: "#fcd9c8", layers: [["#f4a582", bLeftMale]] },
  { base: "#deebf7", layers: [["#c3d5ea", singles(bLeftStage2)], ["#a3bedd", singles(bLeftStage3)], ["#8e9bca", singles(bLeftStage4)], ["#000", singles(bLeftStageNA)]] },
  { base: "#3f8ac4", layers: [["#c6dbef", singles(bLeftRaceLight)], ["#000", singles(bLeftRaceNA)]] },
  { base: "#e0c27f", layers: [["#000", singles(bLeftEthNA)]] },
  { base: "#74c476", layers: [["#a1d99b", singles(bLeftTobLight)], ["#238b45", singles(bLeftTobDark)], ["#000", singles(bLeftTobNA)]] },
  { base: "#e2e2e2", layers: [["#b8b8b8", singles(bLeftDead)]] }
], 9);
trackChart(bRightTrackBox, bRightN, [
  { base: "#3d9a8b" },
  { base: "#e3dfc9", layers: [["#cdc9a6", singles(bRightAgeOld)], ["#f0eee0", singles(bRightAgeYoung)], ["#000", singles(bRightAgeNA)]] },
  { base: "#fcd9c8", layers: [["#f4a582", bRightMale]] },
  { base: "#deebf7", layers: [["#c3d5ea", singles(bRightStage2)], ["#a3bedd", singles(bRightStage3)], ["#8e9bca", singles(bRightStage4)], ["#000", singles(bRightStageNA)]] },
  { base: "#3f8ac4", layers: [["#c6dbef", singles(bRightRaceLight)], ["#000", singles(bRightRaceNA)]] },
  { base: "#e0c27f", layers: [["#000", singles(bRightEthNA)]] },
  { base: "#74c476", layers: [["#a1d99b", singles(bRightTobLight)], ["#238b45", singles(bRightTobDark)], ["#000", singles(bRightTobNA)]] },
  { base: "#e2e2e2", layers: [["#b8b8b8", singles(bRightDead)]] }
], 9);
["TP53 Status","Age","Gender","Stage","Race","Ethnicity","Tobacco History****","OS"].forEach((s,i) => T(1833, 36.5+i*10, s, 12));
barChart({ x: 975, w: 381, top: 114, base: 148 }, bLeftOs, [0,100,200], 260);
barChart({ x: 975, w: 381, top: 156, base: 193 }, bLeftTmb, [0,10,20,30,40], 43);
barChart({ x: 975, w: 381, top: 205, base: 239 }, bLeftNeo, [0,500,1000], 1000);
barChart({ x: 975, w: 381, top: 248, base: 284 }, bLeftSmoke, [0,50,100,150], 160);
barChart({ x: 1448, w: 380, top: 114, base: 148 }, bRightOs, [0,100,200], 260);
barChart({ x: 1448, w: 380, top: 156, base: 193 }, bRightTmb, [0,10,20,30,40], 43);
barChart({ x: 1448, w: 380, top: 205, base: 239 }, bRightNeo, [0,500,1000], 1000);
barChart({ x: 1448, w: 380, top: 248, base: 284 }, bRightSmoke, [0,50,100,150], 160);
T(1833, 131, "OS Time (Month)", 15);
T(1833, 176, "TMB (Mut/Mb)****", 15);
T(1833, 221, "Neoantigens****", 15);
T(1833, 266, "Smoke (Pack Years)", 15);
oncoChart({ x: 975, y: 289, w: 381, h: 476 }, bLeftN, bLeftPct, null, bLeftMis, bLeftOther, 22);
oncoChart({ x: 1448, y: 289, w: 380, h: 476 }, bRightN, bRightPct, bGenes, bRightMis, bRightOther, 22);

// panel B legends
box(839, 784, 81, 131, null, "3px solid #111");
T(855, 850, "Fraction of alternations", 11, { bold: true, rotate: -90 });
T(871, 850, "(TP53)", 11, { bold: true, rotate: -90 });
fractionChart({ x: 886, y: 804, w: 13, h: 85 }, [60.6,6.7,1.6,18.5,12.6], [mutColor.M,mutColor.S,mutColor.I,mutColor.N,mutColor.F]);
box(953, 791, 174, 122, null, "3px solid #111");
T(960, 805, "Alternations", 14, { bold: true });
const bAltNames = ["Splice Site (6.7%)","Missense (60.6%)","Frameshift (12.6%)","Inframe ins/del (1.6%)","Nonsense (18.5%)"];
bAltNames.forEach((s,i) => { box(960, 817+i*17.9, 16, 17, mutColor[altKeys[i]]); T(982, 827+i*17.8, s, 14); });
T(1151, 789, "Age", 14, { bold: true });
box(1151, 799, 19, 108, "linear-gradient(#cdc9a6,#fff)");
[100,80,60,40,20,0].forEach((v,i) => T(1174, 801+i*20.4, String(v), 14));
T(1151, 920, "Gender", 14, { bold: true });
legendColumn(1151, [[932,17,"#fcd9c8","Female"],[950,17,"#f4a582","Male"]], 19, 4, 14);
T(1269, 787, "Stage", 14, { bold: true });
legendColumn(1269, [[798,17,"#deebf7","I"],[816,17,"#c3d5ea","II"],[834,17,"#a3bedd","III"],[852,17,"#8e9bca","IV"]], 18, 5, 14);
T(1269, 884, "Race", 14, { bold: true });
legendColumn(1269, [[895,17,"#6baed6","AMERICAN INDIAN OR ALASKA NATIVE"],[913,17,"#c6dbef","ASIAN"],[931,17,"#9ecae1","BLACK OR AFRICAN AMERICAN"],[949,17,"#3182bd","WHITE"]], 18, 5, 14);
T(1587, 787, "Ethnicity", 14, { bold: true });
legendColumn(1588, [[798,17,"#f5e6c4","HISPANIC OR LATINO"],[816,17,"#e0c27f","NOT HISPANIC OR LATINO"]], 17, 4, 14);
T(1587, 848, "Tobacco History****", 14, { bold: true });
["#c7e9c0","#a1d99b","#74c476","#41ab5d","#238b45"].forEach((c,i) => { box(1588, 860+i*17.8, 17, 17, c); T(1609, 868+i*17.8, String(i+1), 14); });
legendColumn(1762, [[903,16,"#000","NA"]], 15, 4, 14);
T(1827, 782, "OS", 14, { bold: true });
legendColumn(1827, [[793,18,"#e2e2e2","Alive"],[811,17,"#b8b8b8","Dead"]], 17, 4, 14);
T(1827, 846, "TP53 Status", 14, { bold: true });
legendColumn(1827, [[857,17,"#c6ebe3","WT"],[877,17,"#3d9a8b","MT"]], 17, 4, 14);

// ---------- panels C and D ----------
T(92, 1022, "C", 34, { bold: true });
heatChart({ canvasX: 0, x: 288.5, y: 1163, col: 32.3, row: 31.95 }, cRowLabels, cColLabels, cValues, cSig);
colorBar(673, 1655, 163);
T(648, 1738, "\u2212log10(P\u2212value)", 27, { rotate: -90 });
T(842, 1372, "*", 48, { bold: true });
T(872, 1368, "P < 0.0", 25);
T(851, 1400, "\u00b7", 25, { bold: true });
T(872, 1400, "P < 0.1", 25);

T(1040, 1022, "D", 34, { bold: true });
heatChart({ canvasX: 980, x: 1199, y: 1163, col: 32.05, row: 31.95 }, dRowLabels, dColLabels, dValues, dSig);
colorBar(1584, 1655, 163);
T(1559, 1738, "\u2212log10(P\u2212value)", 27, { rotate: -90 });
T(1752, 1372, "*", 48, { bold: true });
T(1784, 1368, "P < 0.0", 25);
T(1763, 1400, "\u00b7", 25, { bold: true });
T(1784, 1400, "P < 0.1", 25);

// ---------- panels E and F ----------
T(48, 1858, "TP53 Mutations", 20, { bold: true });
[[51,"#e2bb68","P53 transactivation motif",73],[290,"#e7b88d","P53 DNA\u2212binding domain",311],[540,"#0e7a5f","P53 tetramerisation motif",562]].forEach(l => {
  box(l[0], 1889, 13, 13, l[1], "1px solid #555");
  T(l[3], 1896, l[2], 18.5);
});
T(6, 1940, "E", 36, { bold: true });
T(36, 2082, "LUAD (MSKCC)", 21, { bold: true, rotate: -90, spacing: 1 });
box(54.5, 2009, 2, 146, "#111");
const eUp = { labels: eUpLabels, pos: eUpPos, head: eUpHead, count: eUpCount, lift: eUpCount.map(c => c === 5 ? 69 : c === 3 ? 58 : 50) };
const eDown = { labels: eDownLabels, pos: eDownPos, head: eDownHead, count: eDownCount, lift: eDownCount.map(c => c === 4 ? 57 : c === 3 ? 51 : 43) };
lollipop({ canvasTop: 1890, canvasBottom: 2215, top: 1982, bottom: 2142, left: 69, right: 1933, span: 80, spanDown: 80 }, eUp, eDown);

T(6, 2269, "F", 36, { bold: true });
T(36, 2390, "LUAD (TCGA)", 20, { bold: true, rotate: -90 });
box(54.5, 2335, 2, 131, "#111");
lollipop({ canvasTop: 2232, canvasBottom: 2581, top: 2323, bottom: 2512, left: 71, right: 1935, span: 92, spanDown: 97 },
  { labels: fUpLabels, pos: fUpPos, head: fUpHead, count: fUpCount, lift: fUpLift },
  { labels: fDownLabels, pos: fDownPos, head: fDownHead, count: fDownCount, lift: fDownLift });
</script>
</body>
</html>
